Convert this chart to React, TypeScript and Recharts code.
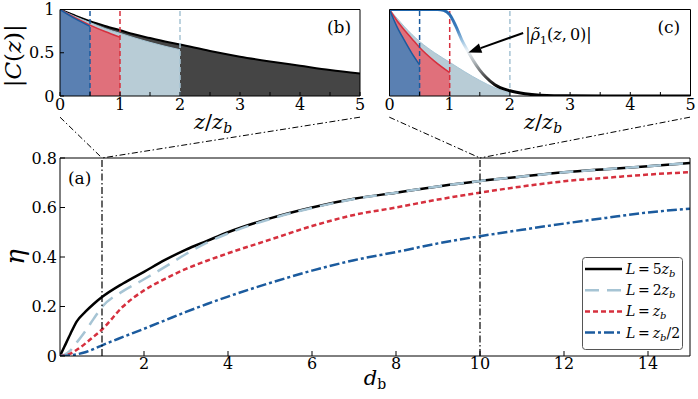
import React from 'react';
import { ComposedChart, Line, Area, XAxis, YAxis, ReferenceLine, ReferenceDot, Legend } from 'recharts';

const SERIF = '"DejaVu Serif", "Liberation Serif", serif';

// ---------- Panel (a): efficiency eta vs d_b ----------
const dB = [0, 0.1, 0.25, 0.4, 0.6, 0.8, 1, 1.5, 2, 2.5, 3, 3.5, 4, 5, 6, 7, 8, 9, 10, 11, 12, 13, 14, 15];
const etaL5 = [0, 0.036, 0.09, 0.14, 0.178, 0.21, 0.238, 0.293, 0.34, 0.388, 0.43, 0.465, 0.5, 0.556, 0.6, 0.635, 0.66, 0.685, 0.707, 0.725, 0.742, 0.755, 0.767, 0.78];
const etaL2 = [0, 0.005, 0.023, 0.055, 0.1, 0.15, 0.198, 0.262, 0.31, 0.36, 0.412, 0.458, 0.495, 0.553, 0.598, 0.634, 0.66, 0.685, 0.707, 0.725, 0.742, 0.755, 0.767, 0.78];
const etaL1 = [0, 0.002, 0.01, 0.025, 0.05, 0.078, 0.107, 0.2, 0.265, 0.312, 0.352, 0.385, 0.415, 0.47, 0.525, 0.57, 0.6, 0.632, 0.66, 0.685, 0.706, 0.72, 0.733, 0.743];
const etaLHalf = [0, 0, 0.003, 0.007, 0.015, 0.028, 0.043, 0.077, 0.11, 0.144, 0.178, 0.21, 0.24, 0.295, 0.345, 0.387, 0.42, 0.455, 0.484, 0.51, 0.535, 0.558, 0.58, 0.595];
const aTicksX = [2, 4, 6, 8, 10, 12, 14];
const aTicksY = [0, 0.2, 0.4, 0.6, 0.8];
const zoomMarks = [1, 10];
// where the inset frames sit, expressed in panel (a) data units
const insetSpanB = [0, 7.143];
const insetSpanC = [7.84, 15];
const connectorTop = 0.965;

// ---------- Panel (b): |C(z)| ----------
const zB = [0, 0.25, 0.5, 0.75, 1, 1.25, 1.5, 1.75, 2, 2.5, 3, 3.5, 4, 4.5, 5];
const cohL5 = [1, 0.93, 0.865, 0.81, 0.76, 0.71, 0.67, 0.63, 0.595, 0.52, 0.455, 0.4, 0.35, 0.3, 0.26];
const cohL2 = [1, 0.92, 0.85, 0.78, 0.725, 0.67, 0.62, 0.575, 0.535];
const cohL1 = [1, 0.905, 0.82, 0.745, 0.68];
const cohLHalf = [1, 0.895, 0.805];

// ---------- Panel (c) ----------
const zC = [0, 0.125, 0.25, 0.375, 0.5, 0.75, 1, 1.25, 1.5, 1.75, 2];
const cohC2 = [1, 0.9, 0.8, 0.71, 0.63, 0.5, 0.39, 0.28, 0.18, 0.095, 0.035];
const cohC1 = [1, 0.87, 0.76, 0.66, 0.56, 0.4, 0.27];
const cohCHalf = [1, 0.8, 0.64, 0.49, 0.36];
const rhoZ = [0, 0.5, 0.8, 0.9, 1.0, 1.1, 1.2, 1.3, 1.4, 1.5, 1.6, 1.75, 2.0, 2.25, 2.5, 3, 4, 5];
const rhoVals = [1, 1, 1, 0.99, 0.94, 0.81, 0.65, 0.52, 0.4, 0.3, 0.22, 0.13, 0.06, 0.025, 0.01, 0.002, 0, 0];

const zTicks = [0, 0.5, 1, 1.5, 2, 2.5, 3, 3.5, 4, 4.5, 5];
const yTicksBC = [0, 0.5, 1];
const cutoffs = [0.5, 1, 2];

// colours
const COL = {
  black: '#000000',
  light: '#a6c4d4',
  red: '#d6303e',
  blue: '#1b5b9e',
  fillDark: '#454545',
  fillLight: '#b8ccd6',
  fillRed: '#e0707b',
  fillBlue: '#5a80b2',
};
const cutoffColors = [COL.blue, COL.red, COL.light];

const aSeries = [
  { key: 'l5', pre: '5', post: '', color: COL.black, dash: undefined as string | undefined },
  { key: 'l2', pre: '2', post: '', color: COL.light, dash: '14 8' },
  { key: 'l1', pre: '', post: '', color: COL.red, dash: '5 3' },
  { key: 'lh', pre: '', post: '/2', color: COL.blue, dash: '10 3 3 3' },
];

const aData = dB.map((d, i) => ({ d, l5: etaL5[i], l2: etaL2[i], l1: etaL1[i], lh: etaLHalf[i] }));
const bData = zB.map((z, i) => ({
  z,
  l5: cohL5[i] ?? null,
  l2: cohL2[i] ?? null,
  l1: cohL1[i] ?? null,
  lh: cohLHalf[i] ?? null,
}));
const cData = zC.map((z, i) => ({
  z,
  l2: cohC2[i] ?? null,
  l1: cohC1[i] ?? null,
  lh: cohCHalf[i] ?? null,
}));
const rhoData = rhoZ.map((z, i) => ({ z, v: rhoVals[i] }));

const connectors = [
  [{ x: insetSpanB[0], y: connectorTop }, { x: zoomMarks[0], y: 0.8 }],
  [{ x: insetSpanB[1], y: connectorTop }, { x: zoomMarks[0], y: 0.8 }],
  [{ x: insetSpanC[0], y: connectorTop }, { x: zoomMarks[1], y: 0.8 }],
  [{ x: insetSpanC[1], y: connectorTop }, { x: zoomMarks[1], y: 0.8 }],
];

const tickStyle = { fill: '#000', fontFamily: SERIF, fontSize: 16 };
const fmtA = (v: number) => (v === 0 ? '0' : v.toFixed(1));
const fmtInt = (v: number) => (Number.isInteger(v) ? String(v) : '');
const fmtBC = (v: number) => (v === 0 ? '0' : v === 1 ? '1' : String(v));

const vbOf = (p: any) => p.viewBox ?? p;

const EtaLabel = (p: any) => {
  const vb = vbOf(p);
  const cx = vb.x + 15;
  const cy = vb.y + vb.height / 2;
  return (
    <text x={cx} y={cy} transform={`rotate(-90 ${cx} ${cy})`} textAnchor="middle" dominantBaseline="central"
      fontFamily={SERIF} fontStyle="italic" fontSize={26} fill="#000">η</text>
  );
};

const DbLabel = (p: any) => {
  const vb = vbOf(p);
  return (
    <text x={vb.x + vb.width / 2} y={vb.y + 29} textAnchor="middle" fontFamily={SERIF} fontSize={21} fill="#000">
      <tspan fontStyle="italic">d</tspan>
      <tspan fontSize={14} dy={4}>b</tspan>
    </text>
  );
};

const ZLabel = (p: any) => {
  const vb = vbOf(p);
  return (
    <text x={vb.x + vb.width / 2 + 3} y={vb.y + 33} textAnchor="middle" fontFamily={SERIF} fontSize={21} fill="#000">
      <tspan fontStyle="italic">z</tspan>
      <tspan>/</tspan>
      <tspan fontStyle="italic">z</tspan>
      <tspan fontStyle="italic" fontSize={14} dy={4}>b</tspan>
    </text>
  );
};

const CohLabel = (p: any) => {
  const vb = vbOf(p);
  const cx = vb.x + 13;
  const cy = vb.y + vb.height / 2 + 3;
  return (
    <text x={cx} y={cy} transform={`rotate(-90 ${cx} ${cy})`} textAnchor="middle" dominantBaseline="central"
      fontFamily={SERIF} fontSize={23} fill="#000">
      <tspan>|</tspan>
      <tspan fontStyle="italic">C</tspan>
      <tspan>(</tspan>
      <tspan fontStyle="italic">z</tspan>
      <tspan>)|</tspan>
    </text>
  );
};

const panelLabel = (txt: string, anchor: 'start' | 'middle' = 'middle') => (p: any) => (
  <text x={p.cx} y={p.cy} textAnchor={anchor} fontFamily={SERIF} fontSize={17} fill="#000">{txt}</text>
);

const ArrowShape = (p: any) => {
  const { x1, y1, x2, y2 } = p;
  const ang = Math.atan2(y2 - y1, x2 - x1);
  const L = 13;
  const W = 5;
  const bx = x2 - L * Math.cos(ang);
  const by = y2 - L * Math.sin(ang);
  const px = -Math.sin(ang) * W;
  const py = Math.cos(ang) * W;
  return (
    <g>
      <line x1={x1} y1={y1} x2={bx} y2={by} stroke="#000" strokeWidth={2} />
      <polygon points={`${x2},${y2} ${bx + px},${by + py} ${bx - px},${by - py}`} fill="#000" />
      <text x={x1 + 2} y={y1 + 7} fontFamily={SERIF} fontSize={16} fill="#000">
        <tspan>|</tspan>
        <tspan fontStyle="italic">{'ρ\u0303'}</tspan>
        <tspan fontSize={11} dy={4}>1</tspan>
        <tspan dy={-4}>(</tspan>
        <tspan fontStyle="italic">z</tspan>
        <tspan>,{'\u2009'}0)|</tspan>
      </text>
    </g>
  );
};

const LegendBox = () => (
  <svg width={102} height={94} style={{ display: 'block' }}>
    <rect x={0.5} y={0.5} width={100} height={92} rx={3} fill="#fff" stroke="#555" strokeWidth={1} />
    {aSeries.map((s, i) => {
      const y = 12 + i * 21.2;
      return (
        <g key={s.key}>
          <line x1={3} y1={y} x2={40} y2={y} stroke={s.color} strokeWidth={2.5} strokeDasharray={s.dash} />
          <text x={44} y={y + 5} fontFamily={SERIF} fontSize={14} fill="#000">
            <tspan fontStyle="italic">L</tspan>
            <tspan>{'\u2009=\u2009'}{s.pre}</tspan>
            <tspan fontStyle="italic">z</tspan>
            <tspan fontStyle="italic" fontSize={10} dy={3}>b</tspan>
            {s.post ? <tspan dy={-3}>{s.post}</tspan> : null}
          </text>
        </g>
      );
    })}
  </svg>
);

export default function App() {
  return (
    <div style={{ position: 'absolute', left: 0, top: 0, width: 698, height: 399, background: '#fff' }}>
      {/* Panel (a) */}
      <div style={{ position: 'absolute', left: 0, top: 100 }}>
        <ComposedChart width={698} height={299} data={aData} margin={{ top: 57, right: 7, bottom: 0, left: 0 }}>
          <XAxis dataKey="d" type="number" domain={[0, 15]} ticks={aTicksX} interval={0} allowDataOverflow
            height={43} tickSize={-5} tickMargin={7} tick={tickStyle} stroke="#000" label={{ content: DbLabel }} />
          <XAxis xAxisId="top" orientation="top" dataKey="d" type="number" domain={[0, 15]} ticks={aTicksX}
            interval={0} height={1} tickSize={-5} tick={false} stroke="#000" />
          <YAxis type="number" domain={[0, 0.8]} ticks={aTicksY} interval={0} allowDataOverflow width={60}
            tickSize={-5} tickMargin={8} tick={tickStyle} tickFormatter={fmtA} stroke="#000" label={{ content: EtaLabel }} />
          <YAxis yAxisId="right" orientation="right" type="number" domain={[0, 0.8]} ticks={aTicksY} interval={0}
            width={1} tickSize={-5} tick={false} stroke="#000" />
          {aSeries.map((s) => (
            <Line key={s.key} dataKey={s.key} type="monotone" stroke={s.color} strokeWidth={2.5}
              strokeDasharray={s.dash} dot={false} activeDot={false} isAnimationActive={false} />
          ))}
          {zoomMarks.map((m) => (
            <ReferenceLine key={'m' + m} x={m} stroke="#000" strokeWidth={1.2} strokeDasharray="7 2.5 1.5 2.5" />
          ))}
          {connectors.map((seg, i) => (
            <ReferenceLine key={'c' + i} segment={seg} ifOverflow="visible" stroke="#000" strokeWidth={1}
              strokeDasharray="6 2.5 1.5 2.5" />
          ))}
          <ReferenceDot x={0.19} y={0.694} shape={panelLabel('(a)', 'start')} />
          <Legend layout="horizontal" verticalAlign="middle" align="center"
            wrapperStyle={{ left: 582, top: 157, width: 102, height: 94 }} content={() => <LegendBox />} />
        </ComposedChart>
      </div>

      {/* Panel (b) */}
      <div style={{ position: 'absolute', left: 0, top: 0 }}>
        <ComposedChart width={370} height={140} data={bData} margin={{ top: 8.5, right: 9, bottom: 0, left: 0 }}>
          <XAxis dataKey="z" type="number" domain={[0, 5]} ticks={zTicks} interval={0} allowDataOverflow
            height={44} tickSize={-4} tickMargin={7} tick={tickStyle} tickFormatter={fmtInt} stroke="#000"
            label={{ content: ZLabel }} />
          <XAxis xAxisId="top" orientation="top" dataKey="z" type="number" domain={[0, 5]} ticks={zTicks}
            interval={0} height={1} tickSize={-4} tick={false} stroke="#000" />
          <YAxis type="number" domain={[0, 1]} ticks={yTicksBC} interval={0} allowDataOverflow width={60}
            tickSize={-4} tickMargin={9.5} tick={tickStyle} tickFormatter={fmtBC} stroke="#000"
            label={{ content: CohLabel }} />
          <YAxis yAxisId="right" orientation="right" type="number" domain={[0, 1]} ticks={yTicksBC} interval={0}
            width={1} tickSize={-4} tick={false} stroke="#000" />
          <Area dataKey="l5" type="monotone" fill={COL.fillDark} fillOpacity={1} stroke={COL.black} strokeWidth={2}
            dot={false} activeDot={false} isAnimationActive={false} />
          <Area dataKey="l2" type="monotone" fill={COL.fillLight} fillOpacity={1} stroke={COL.light} strokeWidth={1}
            dot={false} activeDot={false} isAnimationActive={false} />
          <Area dataKey="l1" type="monotone" fill={COL.fillRed} fillOpacity={1} stroke={COL.red} strokeWidth={1.5}
            dot={false} activeDot={false} isAnimationActive={false} />
          <Area dataKey="lh" type="monotone" fill={COL.fillBlue} fillOpacity={1} stroke={COL.blue} strokeWidth={1.5}
            dot={false} activeDot={false} isAnimationActive={false} />
          {cutoffs.map((c, i) => (
            <ReferenceLine key={'b' + c} x={c} stroke={cutoffColors[i]} strokeWidth={1.5} strokeDasharray="5 3" />
          ))}
          <ReferenceDot x={4.65} y={0.73} shape={panelLabel('(b)')} />
        </ComposedChart>
      </div>

      {/* Panel (c) */}
      <div style={{ position: 'absolute', left: 330, top: 0 }}>
        <ComposedChart width={368} height={140} data={cData} margin={{ top: 8.5, right: 6.5, bottom: 0, left: 0 }}>
          <defs>
            <linearGradient id="rhoGrad" x1="0" y1="0" x2="0" y2="1">
              <stop offset="0" stopColor="#2166ac" />
              <stop offset="0.22" stopColor="#3f7fbf" />
              <stop offset="0.36" stopColor="#9cc3e0" />
              <stop offset="0.48" stopColor="#eef4f8" />
              <stop offset="0.62" stopColor="#a9b0b4" />
              <stop offset="0.78" stopColor="#4a4a4a" />
              <stop offset="0.9" stopColor="#000" />
              <stop offset="1" stopColor="#000" />
            </linearGradient>
          </defs>
          <XAxis dataKey="z" type="number" domain={[0, 5]} ticks={zTicks} interval={0} allowDataOverflow
            height={44} tickSize={-4} tickMargin={7} tick={tickStyle} tickFormatter={fmtInt} stroke="#000"
            label={{ content: ZLabel }} />
          <XAxis xAxisId="top" orientation="top" dataKey="z" type="number" domain={[0, 5]} ticks={zTicks}
            interval={0} height={1} tickSize={-4} tick={false} stroke="#000" />
          <YAxis type="number" domain={[0, 1]} ticks={yTicksBC} interval={0} allowDataOverflow width={59.5}
            tickSize={-4} tick={false} stroke="#000" />
          <YAxis yAxisId="right" orientation="right" type="number" domain={[0, 1]} ticks={yTicksBC} interval={0}
            width={1} tickSize={-4} tick={false} stroke="#000" />
          <Area dataKey="l2" type="monotone" fill={COL.fillLight} fillOpacity={1} stroke={COL.light} strokeWidth={1}
            dot={false} activeDot={false} isAnimationActive={false} />
          <Area dataKey="l1" type="monotone" fill={COL.fillRed} fillOpacity={1} stroke={COL.red} strokeWidth={1.5}
            dot={false} activeDot={false} isAnimationActive={false} />
          <Area dataKey="lh" type="monotone" fill={COL.fillBlue} fillOpacity={1} stroke={COL.blue} strokeWidth={1.5}
            dot={false} activeDot={false} isAnimationActive={false} />
          {cutoffs.map((c, i) => (
            <ReferenceLine key={'c' + c} x={c} stroke={cutoffColors[i]} strokeWidth={1.5} strokeDasharray="5 3" />
          ))}
          <Line data={rhoData} dataKey="v" type="monotone" stroke="url(#rhoGrad)" strokeWidth={3} dot={false}
            activeDot={false} isAnimationActive={false} />
          <ReferenceLine segment={[{ x: 2.22, y: 0.729 }, { x: 1.31, y: 0.503 }]} ifOverflow="visible" shape={ArrowShape} />
          <ReferenceDot x={4.64} y={0.73} shape={panelLabel('(c)')} />
        </ComposedChart>
      </div>
    </div>
  );
}
